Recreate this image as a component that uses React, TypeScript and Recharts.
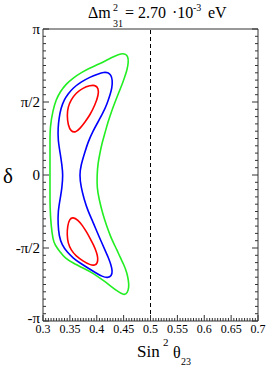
import { ComposedChart, Line, XAxis, YAxis, ReferenceLine } from 'recharts';

// sin^2(theta23) vs delta (in units of pi), three confidence contours
const greenContour = [
  { s: 0.313, d: 0 }, { s: 0.313, d: 0.103 }, { s: 0.313, d: 0.219 }, { s: 0.313, d: 0.329 },
  { s: 0.3186, d: 0.445 }, { s: 0.3242, d: 0.514 }, { s: 0.3316, d: 0.568 }, { s: 0.3428, d: 0.623 },
  { s: 0.3558, d: 0.664 }, { s: 0.3726, d: 0.705 }, { s: 0.3874, d: 0.733 }, { s: 0.4042, d: 0.76 },
  { s: 0.4191, d: 0.788 }, { s: 0.434, d: 0.815 }, { s: 0.4451, d: 0.832 }, { s: 0.4544, d: 0.829 },
  { s: 0.4581, d: 0.808 }, { s: 0.4591, d: 0.774 }, { s: 0.4563, d: 0.719 }, { s: 0.4526, d: 0.678 },
  { s: 0.4488, d: 0.637 }, { s: 0.4414, d: 0.568 }, { s: 0.434, d: 0.5 }, { s: 0.4284, d: 0.445 },
  { s: 0.4209, d: 0.363 }, { s: 0.4153, d: 0.288 }, { s: 0.4098, d: 0.219 }, { s: 0.406, d: 0.151 },
  { s: 0.4023, d: 0.082 }, { s: 0.4005, d: 0 }, { s: 0.4005, d: -0.089 }, { s: 0.4042, d: -0.164 },
  { s: 0.4116, d: -0.274 }, { s: 0.4191, d: -0.356 }, { s: 0.4247, d: -0.411 }, { s: 0.4302, d: -0.459 },
  { s: 0.4377, d: -0.514 }, { s: 0.4433, d: -0.562 }, { s: 0.4507, d: -0.616 }, { s: 0.4563, d: -0.671 },
  { s: 0.4591, d: -0.726 }, { s: 0.46, d: -0.767 }, { s: 0.4572, d: -0.808 }, { s: 0.4507, d: -0.825 },
  { s: 0.4377, d: -0.795 }, { s: 0.4191, d: -0.74 }, { s: 0.393, d: -0.671 }, { s: 0.3744, d: -0.637 },
  { s: 0.3558, d: -0.603 }, { s: 0.3409, d: -0.568 }, { s: 0.3316, d: -0.527 }, { s: 0.3223, d: -0.479 },
  { s: 0.3186, d: -0.445 }, { s: 0.3149, d: -0.342 }, { s: 0.313, d: -0.226 }, { s: 0.313, d: -0.103 },
];

const blueContour = [
  { s: 0.3372, d: 0 }, { s: 0.3353, d: 0.068 }, { s: 0.3316, d: 0.158 }, { s: 0.3279, d: 0.24 },
  { s: 0.3279, d: 0.322 }, { s: 0.3298, d: 0.39 }, { s: 0.3335, d: 0.459 }, { s: 0.3391, d: 0.514 },
  { s: 0.3465, d: 0.555 }, { s: 0.3558, d: 0.596 }, { s: 0.3707, d: 0.637 }, { s: 0.3874, d: 0.671 },
  { s: 0.4023, d: 0.692 }, { s: 0.4135, d: 0.705 }, { s: 0.4209, d: 0.702 }, { s: 0.4265, d: 0.685 },
  { s: 0.4293, d: 0.651 }, { s: 0.4284, d: 0.596 }, { s: 0.4247, d: 0.548 }, { s: 0.4191, d: 0.486 },
  { s: 0.4116, d: 0.425 }, { s: 0.4023, d: 0.363 }, { s: 0.393, d: 0.301 }, { s: 0.3837, d: 0.226 },
  { s: 0.3763, d: 0.137 }, { s: 0.3707, d: 0.068 }, { s: 0.3679, d: 0 }, { s: 0.3707, d: -0.082 },
  { s: 0.3763, d: -0.164 }, { s: 0.3837, d: -0.247 }, { s: 0.393, d: -0.322 }, { s: 0.4005, d: -0.39 },
  { s: 0.4079, d: -0.452 }, { s: 0.4153, d: -0.514 }, { s: 0.4219, d: -0.568 }, { s: 0.4265, d: -0.616 },
  { s: 0.4293, d: -0.658 }, { s: 0.4274, d: -0.692 }, { s: 0.4209, d: -0.705 }, { s: 0.4098, d: -0.695 },
  { s: 0.3986, d: -0.671 }, { s: 0.3837, d: -0.637 }, { s: 0.3688, d: -0.603 }, { s: 0.3558, d: -0.568 },
  { s: 0.3447, d: -0.527 }, { s: 0.3353, d: -0.479 }, { s: 0.3298, d: -0.418 }, { s: 0.3279, d: -0.336 },
  { s: 0.3279, d: -0.253 }, { s: 0.3316, d: -0.171 }, { s: 0.3353, d: -0.089 },
];

const redUpper = [
  { s: 0.3874, d: 0.613 }, { s: 0.3967, d: 0.616 }, { s: 0.4033, d: 0.596 }, { s: 0.4033, d: 0.548 },
  { s: 0.3967, d: 0.479 }, { s: 0.3874, d: 0.411 }, { s: 0.3781, d: 0.363 }, { s: 0.3688, d: 0.318 },
  { s: 0.3605, d: 0.291 }, { s: 0.3521, d: 0.298 }, { s: 0.3465, d: 0.342 }, { s: 0.3447, d: 0.411 },
  { s: 0.3465, d: 0.466 }, { s: 0.3521, d: 0.514 }, { s: 0.3614, d: 0.562 }, { s: 0.3744, d: 0.596 },
];

const redLower = [
  { s: 0.3558, d: -0.288 }, { s: 0.3651, d: -0.308 }, { s: 0.3726, d: -0.342 }, { s: 0.38, d: -0.384 },
  { s: 0.3874, d: -0.432 }, { s: 0.394, d: -0.479 }, { s: 0.3995, d: -0.527 }, { s: 0.4023, d: -0.568 },
  { s: 0.4014, d: -0.603 }, { s: 0.3967, d: -0.62 }, { s: 0.3874, d: -0.616 }, { s: 0.3744, d: -0.589 },
  { s: 0.3614, d: -0.555 }, { s: 0.3521, d: -0.514 }, { s: 0.3465, d: -0.466 }, { s: 0.3447, d: -0.411 },
  { s: 0.3456, d: -0.349 }, { s: 0.3493, d: -0.301 },
];

const xMajor = [0.3, 0.35, 0.4, 0.45, 0.5, 0.55, 0.6, 0.65, 0.7];
const yLabels: Record<string, string> = { '1': 'π', '0.5': 'π/2', '0': '0', '-0.5': '-π/2', '-1': '-π' };

const xTicks = Array.from({ length: 81 }, (_, i) => +(0.3 + i * 0.005).toFixed(3));
const yTicks = Array.from({ length: 41 }, (_, i) => +(-1 + i * 0.05).toFixed(2));

const AXIS = '#333';
const FONT = '"Liberation Serif", "Times New Roman", serif';

const isMajorX = (v: number) => xMajor.some((m) => Math.abs(m - v) < 1e-6);
const isMajorY = (v: number) => Math.abs(v * 2 - Math.round(v * 2)) < 1e-6;

function BottomTick({ x, y, payload }: any) {
  const major = isMajorX(payload.value);
  return (
    <g>
      <line x1={x} y1={y} x2={x} y2={y - (major ? 6 : 3)} stroke={AXIS} />
      {major && (
        <text x={x} y={y + 12} textAnchor="middle" fontSize={12} fontFamily={FONT} fill="#000">
          {String(payload.value)}
        </text>
      )}
    </g>
  );
}

function TopTick({ x, y, payload }: any) {
  const major = isMajorX(payload.value);
  return <line x1={x} y1={y} x2={x} y2={y + (major ? 6 : 3)} stroke={AXIS} />;
}

function LeftTick({ x, y, payload }: any) {
  const major = isMajorY(payload.value);
  // bottom label sits a bit higher so it clears the 0.3 label
  const dy = payload.value === -1 ? 2 : 5;
  return (
    <g>
      <line x1={x} y1={y} x2={x + (major ? 6 : 3)} y2={y} stroke={AXIS} />
      {major && (
        <text x={x - 3} y={y + dy} textAnchor="end" fontSize={15} fontFamily={FONT} fill="#000">
          {yLabels[String(payload.value)]}
        </text>
      )}
    </g>
  );
}

function RightTick({ x, y, payload }: any) {
  const major = isMajorY(payload.value);
  return <line x1={x} y1={y} x2={x - (major ? 6 : 3)} y2={y} stroke={AXIS} />;
}

export default function App() {
  return (
    <div style={{ position: 'absolute', left: 0, top: 0, width: 266, height: 366, background: '#fff' }}>
      <ComposedChart width={266} height={366} margin={{ top: 19, right: 0, bottom: 0, left: 0 }}>
        <XAxis
          xAxisId="b"
          dataKey="s"
          type="number"
          domain={[0.3, 0.7]}
          allowDataOverflow
          ticks={xTicks}
          interval={0}
          tickSize={0}
          tickMargin={0}
          tickLine={false}
          tick={<BottomTick />}
          height={45}
          axisLine={{ stroke: AXIS }}
        />
        <XAxis
          xAxisId="t"
          orientation="top"
          type="number"
          domain={[0.3, 0.7]}
          allowDataOverflow
          ticks={xTicks}
          interval={0}
          tickSize={0}
          tickMargin={0}
          tickLine={false}
          tick={<TopTick />}
          height={10}
          axisLine={{ stroke: AXIS }}
        />
        <YAxis
          yAxisId="l"
          type="number"
          domain={[-1, 1]}
          allowDataOverflow
          ticks={yTicks}
          interval={0}
          tickSize={0}
          tickMargin={0}
          tickLine={false}
          tick={<LeftTick />}
          width={43}
          axisLine={{ stroke: AXIS }}
        />
        <YAxis
          yAxisId="r"
          orientation="right"
          type="number"
          domain={[-1, 1]}
          allowDataOverflow
          ticks={yTicks}
          interval={0}
          tickSize={0}
          tickMargin={0}
          tickLine={false}
          tick={<RightTick />}
          width={8}
          axisLine={{ stroke: AXIS }}
        />
        <ReferenceLine xAxisId="b" yAxisId="l" x={0.5} stroke="#000" strokeDasharray="4 3" />
        <Line xAxisId="b" yAxisId="l" data={greenContour} dataKey="d" type="basisClosed" stroke="#22ee22" strokeWidth={1.6} dot={false} activeDot={false} isAnimationActive={false} />
        <Line xAxisId="b" yAxisId="l" data={blueContour} dataKey="d" type="basisClosed" stroke="#0000ff" strokeWidth={1.6} dot={false} activeDot={false} isAnimationActive={false} />
        <Line xAxisId="b" yAxisId="l" data={redUpper} dataKey="d" type="basisClosed" stroke="#ff0000" strokeWidth={1.6} dot={false} activeDot={false} isAnimationActive={false} />
        <Line xAxisId="b" yAxisId="l" data={redLower} dataKey="d" type="basisClosed" stroke="#ff0000" strokeWidth={1.6} dot={false} activeDot={false} isAnimationActive={false} />
      </ComposedChart>
      <svg width={266} height={366} style={{ position: 'absolute', left: 0, top: 0, pointerEvents: 'none' }} fontFamily={FONT} fill="#000">
        <text x={88} y={18} fontSize={16}>Δm</text>
        <text x={113} y={11} fontSize={10}>2</text>
        <text x={113} y={27} fontSize={10}>31</text>
        <text x={125} y={18} fontSize={16}>= 2.70</text>
        <text x={172} y={18} fontSize={16}>·10</text>
        <text x={193} y={11} fontSize={10}>-3</text>
        <text x={208} y={18} fontSize={16}>eV</text>
        <text x={3} y={183} fontSize={21}>δ</text>
        <text x={137} y={357} fontSize={17}>Sin</text>
        <text x={163} y={346} fontSize={11}>2</text>
        <text x={173} y={358} fontSize={16}>θ</text>
        <text x={181} y={365} fontSize={10}>23</text>
      </svg>
    </div>
  );
}
